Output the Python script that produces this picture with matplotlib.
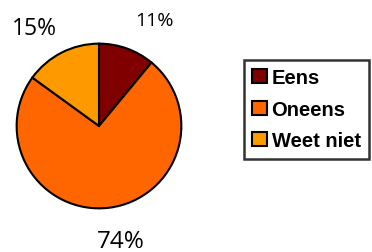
import matplotlib
matplotlib.use("Agg")
import matplotlib.pyplot as plt
from matplotlib.patches import Patch

categories = ["Eens", "Oneens", "Weet niet"]
values = [11, 74, 15]
labels = ["11%", "74%", "15%"]
colors = ["#800000", "#FF6600", "#FF9900"]

W, H = 372, 253
fig = plt.figure(figsize=(W/100, H/100), dpi=100)
cx, cy, r = 99, 127, 84
ax = fig.add_axes([(cx-r)/W, 1-(cy+r)/H, 2*r/W, 2*r/H])
ax.pie(values, colors=colors, startangle=90, counterclock=False,
       wedgeprops=dict(edgecolor="black", linewidth=1.5), radius=1)
ax.set_xlim(-1.02, 1.02); ax.set_ylim(-1.02, 1.02)
ax.set_aspect("equal")
ax.axis("off")

lab_pos = [(154, 21, 14), (121, 242, 17.5), (34, 29, 16.5)]
for lab, (x, y, fs) in zip(labels, lab_pos):
    fig.text(x/W, 1-y/H, lab, ha="center", va="center", fontsize=fs,
             family="Open Sans", color="black")

handles = [Patch(facecolor=c, edgecolor="black", linewidth=1.5) for c in colors]
leg = fig.legend(handles, categories, loc="upper left",
                 bbox_to_anchor=(244/W, 1-61/H), frameon=True, fancybox=False,
                 prop=dict(family="Liberation Sans", weight="bold", size=14.5),
                 handlelength=0.7, handleheight=0.7, handletextpad=0.25,
                 labelspacing=0.62, borderpad=0.42, borderaxespad=0)
leg.get_frame().set_edgecolor("black")
leg.get_frame().set_linewidth(1.8)

fig.savefig("out.png", dpi=100)
